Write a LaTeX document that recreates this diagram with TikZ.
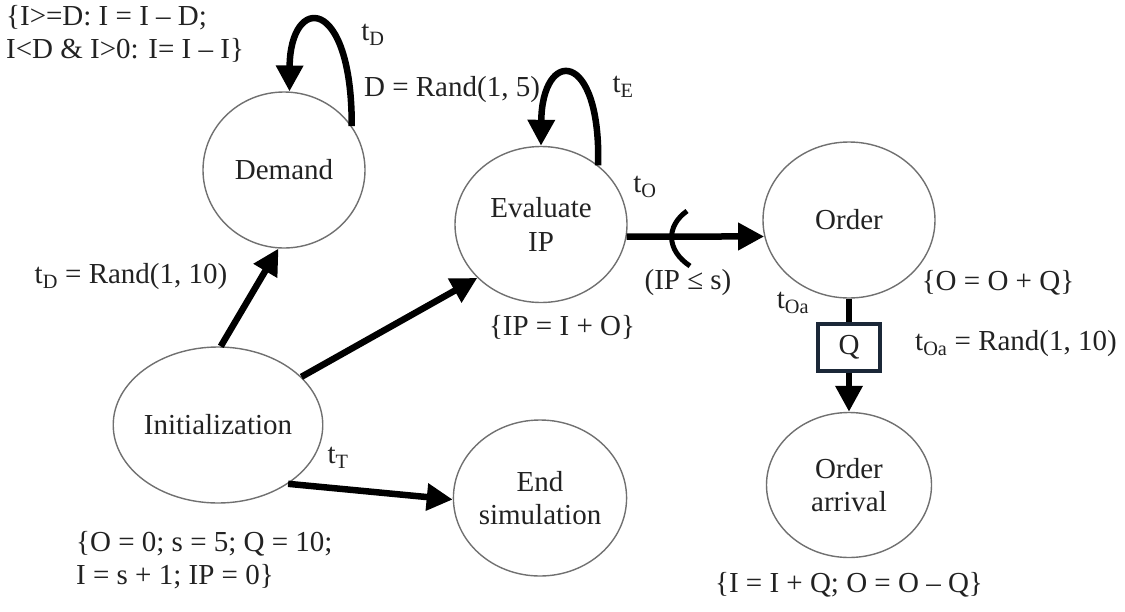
\documentclass[tikz,border=0pt]{standalone}
\usepackage{fontspec}
\setmainfont{Liberation Serif}
\usetikzlibrary{shapes.geometric,arrows.meta}
\newcommand\myfs{\fontsize{29}{33.5}\selectfont}
\definecolor{edgegray}{HTML}{707070}
\definecolor{navy}{HTML}{1B2838}
\definecolor{txt}{HTML}{222222}
\begin{document}
\begin{tikzpicture}[x=1pt,y=-1pt,
  state/.style={ellipse,draw=edgegray,line width=1.4pt,inner sep=0pt,align=center,font=\myfs,text=txt},
  arr/.style={line width=6.5pt,-{Triangle[length=26pt,width=26pt]}},
  lbl/.style={font=\myfs,inner sep=0pt,text=txt},
  qbox/.style={draw=navy,line width=4pt,minimum width=62pt,minimum height=47pt,inner sep=0pt,font=\myfs,text=txt,fill=white},
]
\useasboundingbox (0,0) rectangle (1125,611);

% states
\node[state,minimum width=162pt,minimum height=156pt] (dem) at (284,170) {Demand};
\node[state,minimum width=172pt,minimum height=156pt] (eval) at (541,224.5) {Evaluate\\IP};
\node[state,minimum width=172pt,minimum height=156pt] (order) at (849,220) {Order};
\node[state,minimum width=170pt,minimum height=156pt] (init) at (218,425) {Initialization};
\node[state,minimum width=170pt,minimum height=156pt] (end) at (540,498) {End\\simulation};
\node[state,minimum width=165pt,minimum height=145pt] (arrival) at (849,485) {Order\\arrival};
\node[qbox] (q) at (849,347) {Q};

% connectors
\draw[arr] (init.88) -- (dem.266);
\draw[arr] (init.30) -- (eval.220);
\draw[arr] (init.320) -- (end.181);
\draw[arr] (eval.352) -- (order.191);
\draw[line width=6.5pt] (order.south) -- (q.north);
\draw[arr] (q.south) -- (arrival.north);
\draw[arr] (dem.33) .. controls (352,-6) and (290,-6) .. (dem.86);
\draw[arr] (eval.46) .. controls (601,48) and (542,48) .. (eval.90);
% bracket on the order arc
\draw[line width=5pt] (687,211) .. controls (666,226) and (666,250) .. (690,266);

% labels
\node[lbl,anchor=north west,align=left] (lcond) at (6,5) {\{I>=D: I = I – D;\\I<D \& I>0: I= I – I\}};
\node[lbl] (ltd) at (373,35) {t\textsubscript{D}};
\node[lbl] (ldr) at (452,90) {D = Rand(1, 5)};
\node[lbl] (lte) at (623,87) {t\textsubscript{E}};
\node[lbl] (lto) at (645,187) {t\textsubscript{O}};
\node[lbl] (lips) at (688,283) {(IP ≤ s)};
\node[lbl] (lip) at (562,327) {\{IP = I + O\}};
\node[lbl] (loq) at (998,283) {\{O = O + Q\}};
\node[lbl] (ltoa) at (793,303) {t\textsubscript{Oa}};
\node[lbl] (ltoar) at (1016,344) {t\textsubscript{Oa} = Rand(1, 10)};
\node[lbl] (ltdr) at (131,277) {t\textsubscript{D} = Rand(1, 10)};
\node[lbl] (ltt) at (338,458) {t\textsubscript{T}};
\node[lbl,anchor=north west,align=left] (linit) at (76,531) {\{O = 0; s = 5; Q = 10;\\ I = s + 1; IP = 0\}};
\node[lbl] (larr) at (849,585) {\{I = I + Q; O = O – Q\}};
\end{tikzpicture}
\end{document}
